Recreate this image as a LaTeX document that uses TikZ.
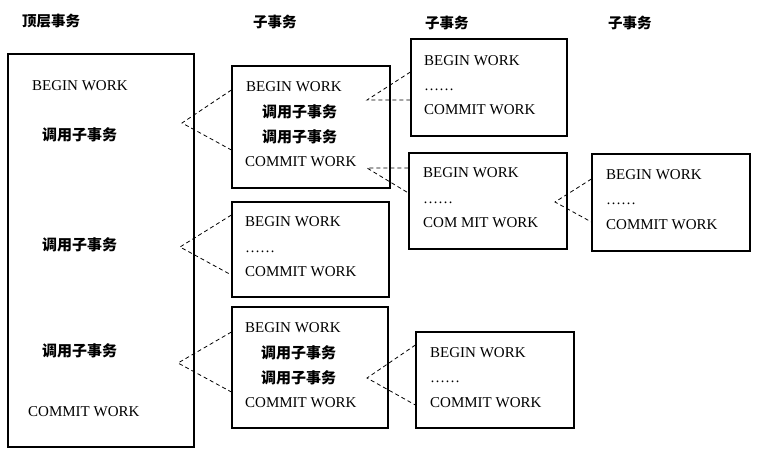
\documentclass[tikz,border=0pt]{standalone}
\usepackage{fontspec}
\setmainfont{Liberation Serif}
\newfontfamily\cjk{Noto Sans CJK SC}
\begin{document}
\begin{tikzpicture}[x=1pt,y=-1pt,
  box/.style={draw,line width=1.2pt,rectangle,inner sep=0pt},
  lat/.style={anchor=base west,inner sep=0pt,font=\fontsize{15}{18}\selectfont},
  zh/.style={anchor=base west,inner sep=0pt,font=\cjk\bfseries\fontsize{15}{18}\selectfont},
  hd/.style={anchor=base west,inner sep=0pt,font=\cjk\bfseries\fontsize{14.5}{17}\selectfont},
  link/.style={dashed,dash pattern=on 4pt off 3pt,line width=0.8pt}]
\useasboundingbox (0,0) rectangle (773,458);
% headers
\node[hd] (h1) at (22,26) {顶层事务};
\node[hd] (h2) at (253,27) {子事务};
\node[hd] (h3) at (425,28) {子事务};
\node[hd] (h4) at (608,28) {子事务};
% boxes
\node[box,minimum width=186pt,minimum height=393pt] (T) at (101,250.5) {};
\node[box,minimum width=158pt,minimum height=122pt] (A) at (311,127) {};
\node[box,minimum width=157pt,minimum height=95pt] (B) at (310.5,249.5) {};
\node[box,minimum width=156pt,minimum height=121pt] (C) at (310,367.5) {};
\node[box,minimum width=156pt,minimum height=97pt] (D) at (489,87.5) {};
\node[box,minimum width=158pt,minimum height=96pt] (E) at (488,201) {};
\node[box,minimum width=158pt,minimum height=97pt] (F) at (671,202.5) {};
\node[box,minimum width=158pt,minimum height=96pt] (G) at (495,380) {};
% top box texts
\node[lat] (t1) at (32,90) {BEGIN WORK};
\node[zh] (t2) at (42,140) {调用子事务};
\node[zh] (t3) at (42,250) {调用子事务};
\node[zh] (t4) at (42,356) {调用子事务};
\node[lat] (t5) at (28,416) {COMMIT WORK};
% box A
\node[lat] (a1) at (246,91) {BEGIN WORK};
\node[zh] (a2) at (262,117) {调用子事务};
\node[zh] (a3) at (262,142) {调用子事务};
\node[lat] (a4) at (245,166) {COMMIT WORK};
% box B
\node[lat] (b1) at (245,226) {BEGIN WORK};
\node[lat] (b2) at (245,252) {……};
\node[lat] (b3) at (245,276) {COMMIT WORK};
% box C
\node[lat] (c1) at (245,332) {BEGIN WORK};
\node[zh] (c2) at (261,358) {调用子事务};
\node[zh] (c3) at (261,383) {调用子事务};
\node[lat] (c4) at (245,407) {COMMIT WORK};
% box D
\node[lat] (d1) at (424,65) {BEGIN WORK};
\node[lat] (d2) at (424,90) {……};
\node[lat] (d3) at (424,114) {COMMIT WORK};
% box E
\node[lat] (e1) at (423,177) {BEGIN WORK};
\node[lat] (e2) at (423,203) {……};
\node[lat] (e3) at (423,227) {COM MIT WORK};
% box F
\node[lat] (f1) at (606,179) {BEGIN WORK};
\node[lat] (f2) at (606,204) {……};
\node[lat] (f3) at (606,229) {COMMIT WORK};
% box G
\node[lat] (g1) at (430,357) {BEGIN WORK};
\node[lat] (g2) at (430,382) {……};
\node[lat] (g3) at (430,407) {COMMIT WORK};
% apex coordinates
\coordinate (p1) at (182,123);
\coordinate (p2) at (180,247);
\coordinate (p3) at (178,363);
\coordinate (p4) at (367,100);
\coordinate (p5) at (367,168);
\coordinate (p6) at (555,202);
\coordinate (p7) at (367,378);
% connectors
\draw[link] (A.west |- 0,90) -- (p1) -- (A.west |- 0,150);
\draw[link] (B.west |- 0,215) -- (p2) -- (B.west |- 0,275);
\draw[link] (C.west |- 0,332) -- (p3) -- (C.west |- 0,392);
\draw[link] (D.west |- 0,72) -- (p4) -- (D.west |- 0,100);
\draw[link] (E.west |- 0,168) -- (p5) -- (E.west |- 0,193);
\draw[link] (F.west |- 0,179) -- (p6) -- (F.west |- 0,222);
\draw[link] (G.west |- 0,345) -- (p7) -- (G.west |- 0,405);
\end{tikzpicture}
\end{document}
